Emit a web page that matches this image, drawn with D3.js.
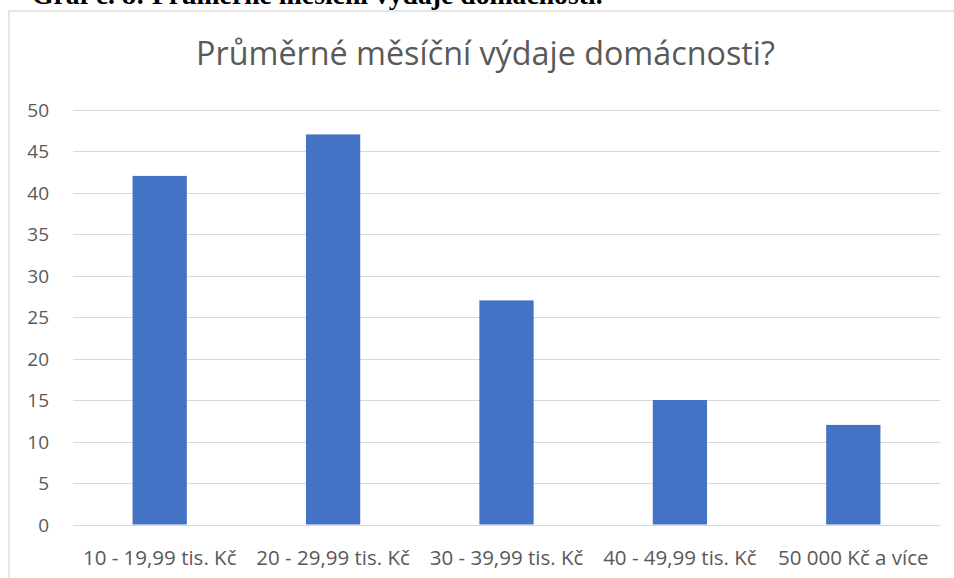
<!DOCTYPE html>
<html><head><meta charset="utf-8">
<script src="https://cdn.jsdelivr.net/npm/d3@7"></script>
<style>html,body{margin:0;padding:0;background:#fff;overflow:hidden}</style>
</head><body>
<svg id="c" width="954" height="578"></svg>
<script>
const categories = ["10 - 19,99 tis. Kč","20 - 29,99 tis. Kč","30 - 39,99 tis. Kč","40 - 49,99 tis. Kč","50 000 Kč a více"];
const values = [42, 47, 27, 15, 12];
const yTicks = [0,5,10,15,20,25,30,35,40,45,50];
const chartTitle = "Průměrné měsíční výdaje domácnosti?";
const headerText = "Graf č. 8: Průměrné měsíční výdaje domácnosti.";

const svg = d3.select("#c");
const font = "'Open Sans', sans-serif";
const grey = "#595959";

function fit(sel, target){
  const w = sel.node().getComputedTextLength();
  const fs = parseFloat(sel.attr("font-size"));
  sel.attr("font-size", fs*target/w);
}

// header (caption above chart, clipped by the top edge as in the reference)
const hdr = svg.append("text").attr("x",32).attr("y",4)
  .attr("font-family","'Liberation Serif', 'Times New Roman', serif")
  .attr("font-weight","bold").attr("font-size",24).attr("fill","#000").text(headerText);
fit(hdr, 571);

// chart border
svg.append("rect").attr("x",9).attr("y",11).attr("width",960).attr("height",600)
  .attr("fill","#fff").attr("stroke","#d9d9d9").attr("stroke-width",1.3);

const m = {left:73, right:940, top:109.5, bottom:524.5};
const x = d3.scaleBand().domain(categories).range([m.left, m.right]).padding(0);
const y = d3.scaleLinear().domain([0,50]).range([m.bottom, m.top]);

// gridlines
svg.append("g").selectAll("line").data(yTicks).join("line")
  .attr("x1",m.left).attr("x2",m.right)
  .attr("y1",d=>Math.round(y(d))+0.5).attr("y2",d=>Math.round(y(d))+0.5)
  .attr("stroke","#d9d9d9").attr("stroke-width",1);

// y axis labels
const yAxis = d3.axisLeft(y).tickValues(yTicks).tickSize(0).tickPadding(0);
const gy = svg.append("g").attr("transform",`translate(49,0)`).call(yAxis);
gy.select(".domain").remove();
gy.selectAll("text").attr("font-family",font).attr("font-size",19).attr("fill",grey).attr("dy","0.35em");

// bars
const bw = x.bandwidth()*0.313;
svg.append("g").selectAll("rect").data(values).join("rect")
  .attr("x",(d,i)=>x(categories[i])+x.bandwidth()/2-bw/2)
  .attr("width",bw)
  .attr("y",d=>y(d)).attr("height",d=>y(0)-y(d))
  .attr("fill","#4472c4");

// x axis
const xAxis = d3.axisBottom(x).tickSize(0).tickPadding(0);
const gx = svg.append("g").attr("transform",`translate(0,${m.bottom})`).call(xAxis);
gx.select(".domain").remove();
gx.selectAll("text").attr("font-family",font).attr("font-size",20.5).attr("fill",grey)
  .attr("dy",0).attr("y",40);

// title
const t = svg.append("text").attr("x",485.5).attr("y",65).attr("text-anchor","middle")
  .attr("font-family",font).attr("font-size",30).attr("fill",grey).text(chartTitle);
fit(t, 579);
</script>
</body></html>
